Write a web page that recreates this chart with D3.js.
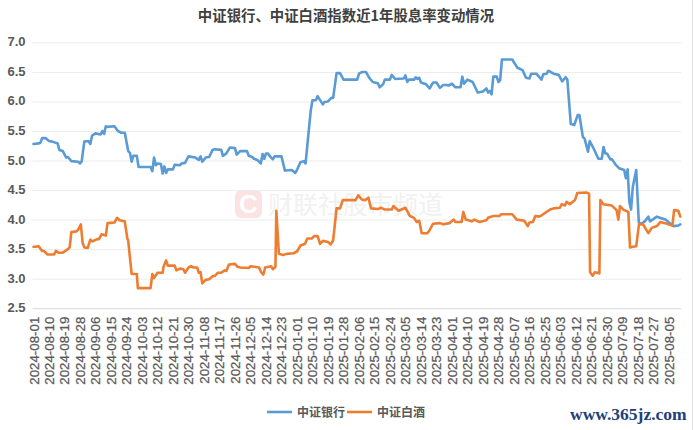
<!DOCTYPE html>
<html><head><meta charset="utf-8">
<script src="https://cdn.jsdelivr.net/npm/d3@7"></script>
<style>html,body{margin:0;padding:0;background:#fff}svg{display:block}</style></head>
<body><svg id="c" width="693" height="430"></svg>
<script>
const chartTitle="中证银行、中证白酒指数近1年股息率变动情况";
const seriesNames=["中证银行","中证白酒"];
const yTicks=[2.5,3,3.5,4,4.5,5,5.5,6,6.5,7];
const xTickLabels=["2024-08-01","2024-08-10","2024-08-19","2024-08-28","2024-09-06","2024-09-15","2024-09-24","2024-10-03","2024-10-12","2024-10-21","2024-10-30","2024-11-08","2024-11-17","2024-11-26","2024-12-05","2024-12-14","2024-12-23","2025-01-01","2025-01-10","2025-01-19","2025-01-28","2025-02-06","2025-02-15","2025-02-24","2025-03-05","2025-03-14","2025-03-23","2025-04-01","2025-04-10","2025-04-19","2025-04-28","2025-05-07","2025-05-16","2025-05-25","2025-06-03","2025-06-12","2025-06-21","2025-06-30","2025-07-09","2025-07-18","2025-07-27","2025-08-05"];
// [days since 2024-08-01, dividend yield %]
const bankSeries=[[0,5.28],[3,5.29],[4,5.30],[5,5.38],[7,5.38],[9,5.33],[11,5.32],[14,5.29],[15,5.18],[17,5.16],[19,5.05],[20,5.06],[22,4.99],[26,4.98],[27,4.95],[28,4.99],[29.5,5.32],[32,5.33],[33,5.28],[34,5.42],[36,5.46],[39,5.44],[40,5.50],[41,5.45],[42,5.58],[43,5.57],[47,5.58],[49,5.50],[51,5.47],[53,5.47],[55,5.16],[56,5.13],[57,4.98],[58,5.08],[60,5.08],[61,4.89],[68,4.89],[69,4.82],[70,5.05],[71,4.92],[72,4.95],[74,4.94],[75,4.78],[76,4.90],[77,4.79],[78,4.85],[81,4.85],[82,4.93],[85,4.92],[86,4.95],[88,4.96],[90,5.07],[94,5.05],[96,5.01],[97,5.07],[98,4.98],[100,5.05],[102,5.06],[104,5.18],[105,5.19],[109,5.18],[110,5.08],[112,5.12],[114,5.22],[117,5.21],[118,5.10],[120,5.16],[124,5.16],[125,5.08],[127,5.06],[128,5.03],[130,5.01],[132,4.95],[133,5.11],[134,5.03],[135,5.12],[136,5.12],[138,5.05],[139,5.02],[140,5.07],[144,5.07],[146,4.83],[150,4.84],[152,4.79],[153,4.84],[155,4.97],[157,4.99],[158,4.95],[161,5.85],[162,6.02],[164,6.02],[165,6.09],[168,5.95],[169,5.99],[171,6.00],[173,6.06],[174,6.06],[176,6.48],[178,6.48],[180,6.37],[188,6.37],[189,6.47],[191,6.50],[193,6.50],[195,6.40],[197,6.33],[200,6.31],[201,6.24],[203,6.29],[204,6.37],[207,6.37],[208,6.45],[210,6.38],[215,6.39],[216,6.44],[217,6.33],[218,6.37],[221,6.37],[222,6.41],[223,6.38],[224,6.40],[225,6.32],[228,6.29],[230,6.22],[232,6.32],[234,6.32],[236,6.23],[238,6.28],[240,6.28],[241,6.27],[243,6.30],[245,6.24],[248,6.24],[249,6.42],[250,6.30],[252,6.37],[255,6.33],[256,6.27],[258,6.15],[261,6.17],[263,6.22],[264,6.15],[265,6.18],[266,6.12],[267,6.42],[269,6.42],[270,6.33],[271,6.36],[272,6.71],[278,6.71],[281,6.57],[284,6.53],[286,6.40],[288,6.39],[289,6.47],[292,6.47],[295,6.37],[296,6.46],[298,6.47],[299,6.52],[302,6.47],[305,6.45],[307,6.34],[309,6.41],[310,6.37],[312,5.62],[314,5.60],[316,5.77],[317,5.77],[319,5.40],[320,5.37],[322,5.15],[323,5.33],[325,5.22],[328,5.03],[330,5.03],[331,5.23],[332,5.12],[333,5.12],[335,5.02],[336,5.02],[338,4.93],[340,4.87],[343,4.84],[344,4.70],[345,4.85],[346,4.30],[347,4.17],[348,4.55],[350,4.84],[351.5,3.95],[353,3.93],[355,3.97],[357,4.05],[358,3.97],[362,4.05],[365,4.02],[367,4.00],[369,3.95],[371.5,3.89],[374.5,3.90],[375.6,3.92]];
const liquorSeries=[[0,3.54],[1,3.54],[3,3.55],[5,3.47],[6,3.47],[8,3.41],[12,3.41],[13,3.47],[14.5,3.44],[17,3.44],[20,3.50],[21,3.53],[22,3.79],[25,3.80],[26,3.83],[27.5,3.92],[28.5,3.61],[29.5,3.53],[31.5,3.52],[33,3.66],[34,3.63],[37,3.67],[38,3.67],[39.5,3.75],[42,3.73],[43,3.94],[47,3.95],[48.5,4.03],[50,3.99],[53,3.97],[54.5,3.68],[55,3.64],[57,3.08],[60,3.08],[60.6,2.84],[68,2.84],[69,3.08],[70,3.01],[72,3.10],[75,3.10],[75.5,3.20],[77,3.31],[78,3.22],[82,3.22],[83,3.14],[85,3.17],[87,3.16],[88,3.10],[90,3.19],[91.5,3.21],[93,3.19],[95,3.19],[96,3.10],[97,3.11],[98,2.92],[100,2.98],[102,2.99],[104,3.04],[105.5,3.05],[107,3.10],[109,3.10],[111,3.14],[112,3.13],[113.5,3.24],[117,3.25],[118.5,3.20],[120,3.19],[125,3.18],[126,3.21],[131,3.19],[132,3.12],[133.5,3.07],[134.5,3.19],[138,3.21],[139,3.16],[140.5,3.20],[141,4.15],[142.5,3.42],[145,3.40],[147,3.42],[151,3.43],[153,3.46],[155,3.56],[157.7,3.59],[159,3.68],[161.6,3.68],[163,3.72],[165,3.72],[166.4,3.59],[168,3.64],[171,3.62],[172.6,3.58],[174,3.65],[176,4.19],[178,4.19],[179.6,4.33],[187,4.33],[188.6,4.41],[190.6,4.34],[192.5,4.33],[194.5,4.37],[196,4.19],[200,4.18],[202,4.20],[204,4.17],[208,4.17],[209,4.23],[212,4.15],[216,4.20],[218.6,4.06],[221,4.03],[222.5,3.96],[224,3.98],[225.4,3.77],[228.7,3.77],[230,3.82],[232,3.93],[236,3.94],[238,3.92],[241.5,3.94],[244,4.00],[245,3.96],[248.6,3.96],[249.6,4.13],[251,4.00],[254.5,3.97],[256,4.00],[259,3.96],[263,3.99],[264,4.03],[267,4.06],[270.5,4.06],[271.5,4.09],[278,4.09],[280.6,4.00],[285,3.98],[287,3.89],[288,3.95],[290,3.96],[291.4,4.06],[293.7,4.05],[295,4.07],[297.4,4.12],[300,4.17],[302,4.19],[305.7,4.20],[306.7,4.26],[308.6,4.24],[309.6,4.30],[311.5,4.26],[314.4,4.33],[315.8,4.45],[321,4.46],[322.6,4.44],[323.2,3.11],[324.7,3.05],[326,3.11],[328.6,3.09],[329.2,4.33],[330.9,4.26],[335.7,4.24],[338.6,4.16],[339.6,4.00],[340.6,4.23],[342.5,4.17],[345.4,4.13],[346.4,3.53],[348,3.54],[350,3.55],[351.6,3.92],[354,3.92],[357,3.77],[359,3.86],[362,3.89],[364,3.96],[366.7,3.94],[368.6,3.92],[371,3.90],[372,4.16],[374.4,4.15],[375.6,4.05]];

const svg=d3.select("#c");
const font="'Liberation Sans',Arial,sans-serif", cjk="'Noto Sans CJK SC','Liberation Sans',sans-serif";
const start=new Date(Date.UTC(2024,7,1));
const toDate=d=>new Date(+start+d*864e5);
const x=d3.scaleUtc().domain([start,toDate(376)]).range([33.5,681]);
const y=d3.scaleLinear().domain([2.5,7]).range([308.2,42.4]);

// watermark
svg.append("rect").attr("x",235).attr("y",190).attr("width",27).attr("height",28).attr("rx",6).attr("fill","#fbe3e3");
svg.append("text").attr("x",248.5).attr("y",213).attr("text-anchor","middle").attr("font-family",font).attr("font-weight","bold").attr("font-size",26).attr("fill","#fff").text("C");
svg.append("text").attr("x",268).attr("y",214).attr("font-family",cjk).attr("font-size",25).attr("fill","#f1f1f1").text("财联社股市频道");

// grid + y axis
const yAxis=svg.append("g").attr("transform","translate(32.5,0)").call(d3.axisLeft(y).tickValues(yTicks).tickFormat(d3.format(".1f")).tickSize(0).tickPadding(7));
yAxis.select(".domain").remove();
yAxis.selectAll("text").attr("font-family",font).attr("font-size",13).attr("font-weight","bold").attr("fill","#595959").attr("dy","0.27em");
yAxis.selectAll("line").attr("x2",648.5).attr("stroke",d=>d===2.5?"#d9d9d9":"#ececec").attr("stroke-width",1);

// x axis
const xAxis=svg.append("g").attr("transform","translate(0,308.2)").call(d3.axisBottom(x).tickValues(xTickLabels.map(s=>new Date(s+"T00:00:00Z"))).tickFormat(d3.utcFormat("%Y-%m-%d")).tickSize(0));
xAxis.select(".domain").remove();
xAxis.selectAll("text").attr("font-family",font).attr("font-size",13.3).attr("fill","#595959")
  .attr("stroke","#595959").attr("stroke-width",0.25)
  .attr("text-anchor","end").attr("dy",null).attr("y",0).attr("x",0)
  .attr("transform","translate(0,8.5) rotate(-90)").attr("dominant-baseline","central");

// lines
const line=d3.line().x(d=>x(toDate(d[0]))).y(d=>y(d[1]));
const colors=["#5B9BD5","#ED7D31"];
[bankSeries,liquorSeries].forEach((s,i)=>svg.append("path").datum(s).attr("d",line).attr("fill","none").attr("stroke",colors[i]).attr("stroke-width",2.6).attr("stroke-linejoin","round").attr("stroke-linecap","round"));

// title
svg.append("text").attr("x",346).attr("y",21).attr("text-anchor","middle").attr("font-family",cjk).attr("font-weight","bold").attr("font-size",14.4).attr("fill","#404040").text(chartTitle);

// legend
[[267,297],[347,377]].forEach((p,i)=>{
  svg.append("line").attr("x1",p[0]).attr("x2",p[0]+25).attr("y1",412).attr("y2",412).attr("stroke",colors[i]).attr("stroke-width",2.6);
  svg.append("text").attr("x",p[1]).attr("y",416.5).attr("font-family",cjk).attr("font-weight","bold").attr("font-size",12).attr("fill","#595959").text(seriesNames[i]);
});

// site mark + frame
svg.append("text").attr("x",570).attr("y",420).attr("font-family","'Liberation Serif',serif").attr("font-weight","bold").attr("font-size",17.5).attr("fill","#1d3f7a").text("www.365jz.com");
svg.append("line").attr("x1",692.5).attr("x2",692.5).attr("y1",0).attr("y2",430).attr("stroke","#e0e0e0");
</script></body></html>
